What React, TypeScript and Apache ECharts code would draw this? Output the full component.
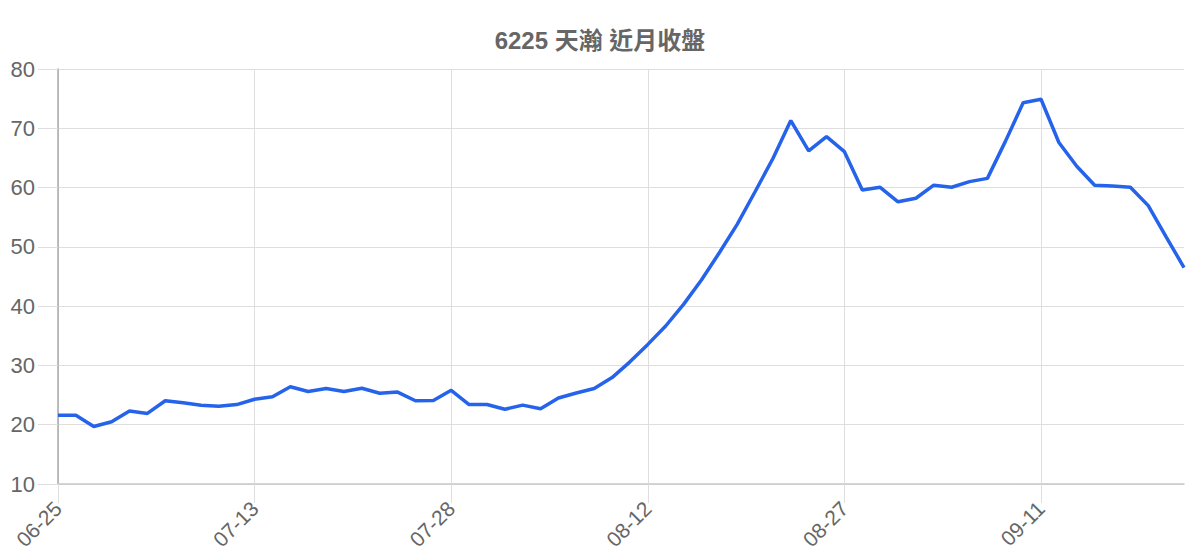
import * as echarts from "echarts";
import { useEffect, useRef } from "react";

const TITLE = "6225 天瀚 近月收盤";

/** 交易日（MM-DD）。 */
const dates = [
  "06-25", "06-26", "06-29", "06-30", "07-01", "07-02", "07-03", "07-06", "07-07", "07-08",
  "07-10", "07-13", "07-14", "07-15", "07-16", "07-17", "07-20", "07-21", "07-22", "07-23",
  "07-24", "07-27", "07-28", "07-29", "07-30", "07-31", "08-03", "08-04", "08-05", "08-06",
  "08-07", "08-10", "08-11", "08-12", "08-13", "08-14", "08-17", "08-18", "08-19", "08-20",
  "08-21", "08-24", "08-25", "08-26", "08-27", "08-28", "08-31", "09-01", "09-02", "09-03",
  "09-04", "09-07", "09-08", "09-09", "09-10", "09-11", "09-14", "09-15", "09-16", "09-17",
  "09-18", "09-21", "09-22", "09-23",
];

/** 收盤價。 */
const closes = [
  21.6, 21.6, 19.7, 20.5, 22.3, 21.9, 24.05, 23.7, 23.3, 23.1,
  23.4, 24.3, 24.7, 26.4, 25.6, 26.1, 25.6, 26.15, 25.3, 25.5,
  24.05, 24.1, 25.8, 23.4, 23.4, 22.6, 23.3, 22.7, 24.5, 25.35,
  26.1, 27.95, 30.6, 33.55, 36.65, 40.3, 44.4, 49.0, 53.8, 59.3,
  64.9, 71.3, 66.2, 68.6, 66.05, 59.6, 60.05, 57.6, 58.2, 60.4,
  60.05, 61.0, 61.55, 67.75, 74.3, 74.9, 67.6, 63.6, 60.4, 60.25,
  60.05, 56.95, 51.7, 46.5,
];

const Y_MIN = 10;
const Y_MAX = 80;
const Y_STEP = 10;
/** 每 11 個交易日標一次日期。 */
const LABEL_EVERY = 10;

const FONT = "'Liberation Sans', 'Noto Sans CJK TC', sans-serif";
const GRID_COLOR = "#dedede";

function buildOption(): echarts.EChartsOption {
  return {
    animation: false,
    title: {
      text: TITLE,
      left: "center",
      top: 23,
      textStyle: { color: "#666", fontSize: 24, fontWeight: "bold", fontFamily: FONT },
    },
    grid: { left: 58, right: 16, top: 69, bottom: 76 },
    xAxis: {
      type: "category",
      data: dates,
      boundaryGap: false,
      axisLine: { lineStyle: { color: "#c8c8c8", width: 1.5 } },
      axisTick: {
        show: true,
        interval: LABEL_EVERY,
        length: 19,
        lineStyle: { color: GRID_COLOR },
      },
      axisLabel: {
        interval: LABEL_EVERY,
        rotate: 45,
        margin: 21,
        color: "#666",
        fontSize: 21,
        fontFamily: FONT,
      },
      splitLine: {
        show: true,
        interval: LABEL_EVERY,
        lineStyle: { color: GRID_COLOR },
      },
    },
    yAxis: {
      type: "value",
      min: Y_MIN,
      max: Y_MAX,
      interval: Y_STEP,
      axisLine: { show: true, lineStyle: { color: "#aaa", width: 1.5 } },
      axisTick: { show: true, length: 20, lineStyle: { color: GRID_COLOR } },
      axisLabel: { margin: 23, color: "#666", fontSize: 22, fontFamily: FONT },
      splitLine: { show: true, lineStyle: { color: GRID_COLOR } },
    },
    series: [
      {
        type: "line",
        data: closes,
        showSymbol: false,
        symbol: "none",
        lineStyle: { color: "#2563eb", width: 3.5 },
        itemStyle: { color: "#2563eb" },
      },
    ],
  };
}

export default function App() {
  const chartRef = useRef<HTMLDivElement | null>(null);

  useEffect(() => {
    document.body.style.margin = "0";
    const el = chartRef.current;
    if (!el) {
      return undefined;
    }
    const chart = echarts.init(el, undefined, { renderer: "svg" });
    chart.setOption(buildOption());
    return () => {
      chart.dispose();
    };
  }, []);

  return <div ref={chartRef} style={{ width: 1200, height: 560, background: "#fff" }} />;
}
